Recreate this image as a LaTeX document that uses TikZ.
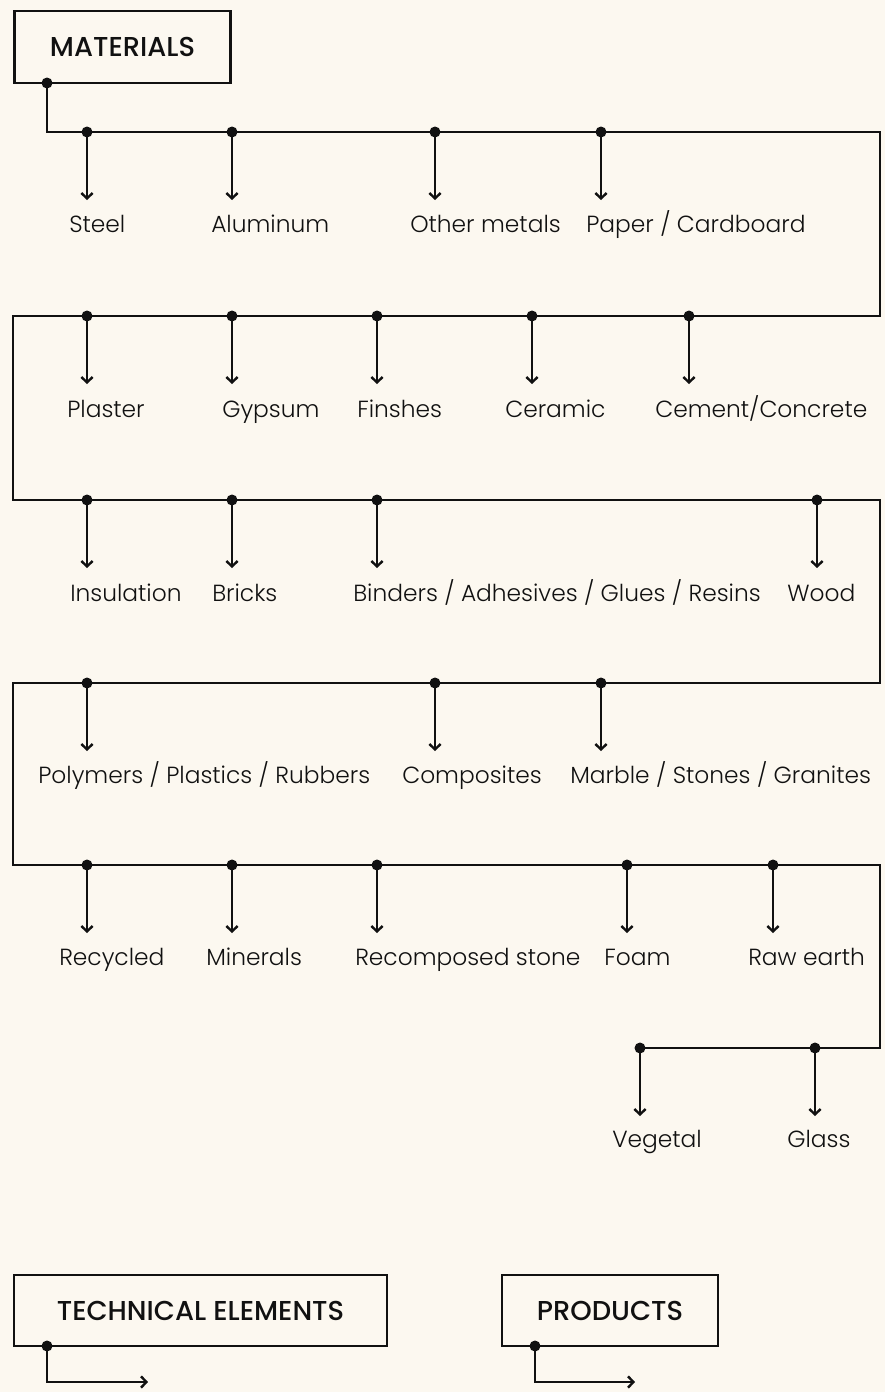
\documentclass[tikz,border=0pt]{standalone}
\usepackage{fontspec}
\setmainfont{Poppins}[UprightFont=* Light, BoldFont=* Medium]
\usetikzlibrary{arrows.meta}
\definecolor{bg}{HTML}{FCF8F0}
\definecolor{ink}{HTML}{111111}
\tikzset{
  wire/.style={draw=ink, line width=2.1pt},
  branch/.style={draw=ink, line width=2.1pt, -{Straight Barb[length=4pt,width=8.5pt,line width=1.8pt]}},
  lbl/.style={anchor=base west, inner sep=0pt, text=ink, font=\fontsize{17.5}{20}\selectfont},
  head/.style={draw=ink, line width=2.1pt, text=ink, font=\bfseries\fontsize{20.5}{24}\selectfont, inner sep=0pt},
  jdot/.style={fill=ink, draw=none},
}
\begin{document}
\begin{tikzpicture}[x=0.75pt,y=-0.75pt]
\fill[bg] (0,0) rectangle (885,1392);
\useasboundingbox (0,0) rectangle (885,1392);

% heading boxes
\node[head, minimum width=216*0.75pt, minimum height=72*0.75pt] (mat) at (122.5,47) {MATERIALS};
\node[head, minimum width=373*0.75pt, minimum height=71*0.75pt] (tech) at (200.5,1310.5) {TECHNICAL ELEMENTS};
\node[head, minimum width=216*0.75pt, minimum height=71*0.75pt] (prod) at (610,1310.5) {PRODUCTS};

% main wire corners
\coordinate (m0) at (47,83);
\coordinate (c1) at (47,132);
\coordinate (c2) at (880,132);
\coordinate (c3) at (880,316);
\coordinate (c4) at (13,316);
\coordinate (c5) at (13,500);
\coordinate (c6) at (880,500);
\coordinate (c7) at (880,683);
\coordinate (c8) at (13,683);
\coordinate (c9) at (13,865);
\coordinate (c10) at (880,865);
\coordinate (c11) at (880,1048);
\coordinate (c12) at (640,1048);
\draw[wire, line join=miter] (m0) -- (c1) -- (c2) -- (c3) -- (c4) -- (c5) -- (c6) -- (c7) -- (c8) -- (c9) -- (c10) -- (c11) -- (c12);
\fill[jdot] (m0) circle (5.5);

% labels
\node[lbl] (steel) at (69,232) {Steel};
\node[lbl] (alu) at (211,232) {Aluminum};
\node[lbl] (omet) at (410,232) {Other metals};
\node[lbl] (paper) at (586,232) {Paper / Cardboard};

\node[lbl] (plaster) at (67,417) {Plaster};
\node[lbl] (gyps) at (222,417) {Gypsum};
\node[lbl] (fin) at (357,417) {Finshes};
\node[lbl] (cer) at (505,417) {Ceramic};
\node[lbl] (cem) at (655,417) {Cement/Concrete};

\node[lbl] (ins) at (70,601) {Insulation};
\node[lbl] (bri) at (212,601) {Bricks};
\node[lbl] (bind) at (353,601) {Binders / Adhesives / Glues / Resins};
\node[lbl] (wood) at (787,601) {Wood};

\node[lbl] (poly) at (38,783) {Polymers / Plastics / Rubbers};
\node[lbl] (comp) at (402,783) {Composites};
\node[lbl] (marb) at (570,783) {Marble / Stones / Granites};

\node[lbl] (recy) at (59,965) {Recycled};
\node[lbl] (mine) at (206,965) {Minerals};
\node[lbl] (reco) at (355,965) {Recomposed stone};
\node[lbl] (foam) at (604,965) {Foam};
\node[lbl] (raw) at (748,965) {Raw earth};

\node[lbl] (veg) at (612,1147) {Vegetal};
\node[lbl] (glass) at (787,1147) {Glass};

% branches: x, wire y, arrow end y
\foreach \x/\y/\e in {
  87/132/200, 232/132/200, 435/132/200, 601/132/200,
  87/316/384, 232/316/384, 377/316/384, 532/316/384, 689/316/384,
  87/500/568, 232/500/568, 377/500/568, 817/500/568,
  87/683/751, 435/683/751, 601/683/751,
  87/865/933, 232/865/933, 377/865/933, 627/865/933, 773/865/933,
  640/1048/1116, 815/1048/1116}{
  \coordinate (d) at (\x,\y);
  \coordinate (t) at (\x,\e);
  \draw[branch] (d) -- (t);
  \fill[jdot] (d) circle (5.5);
}

% bottom connectors
\coordinate (tdot) at (47,1346);
\coordinate (tc) at (47,1382);
\coordinate (tend) at (148,1382);
\draw[branch] (tdot) -- (tc) -- (tend);
\fill[jdot] (tdot) circle (5.5);
\coordinate (pdot) at (535,1346);
\coordinate (pc) at (535,1382);
\coordinate (pend) at (635,1382);
\draw[branch] (pdot) -- (pc) -- (pend);
\fill[jdot] (pdot) circle (5.5);
\end{tikzpicture}
\end{document}
